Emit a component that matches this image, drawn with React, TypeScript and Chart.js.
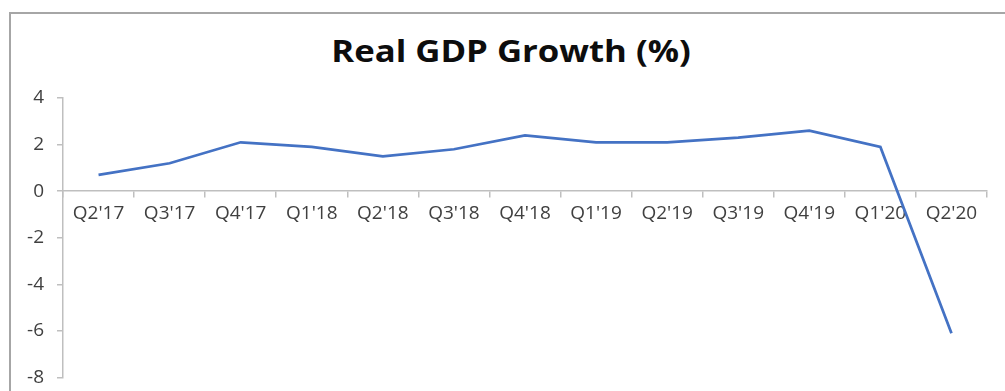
import React, { useEffect, useRef } from "react";
import { Chart, registerables } from "chart.js";

Chart.register(...registerables);

const TITLE = "Real GDP Growth (%)";
const categories = ["Q2'17", "Q3'17", "Q4'17", "Q1'18", "Q2'18", "Q3'18", "Q4'18", "Q1'19", "Q2'19", "Q3'19", "Q4'19", "Q1'20", "Q2'20"];
const gdpGrowth = [0.7, 1.2, 2.1, 1.9, 1.5, 1.8, 2.4, 2.1, 2.1, 2.3, 2.6, 1.9, -6.1];
const yMin = -8;
const yMax = 4;
const yStep = 2;

const FONT = "'Open Sans', 'Liberation Sans', sans-serif";
const AXIS_GRAY = "#bfbfbf";
const LABEL_GRAY = "#404040";

export default function App() {
  const canvasRef = useRef<HTMLCanvasElement | null>(null);

  useEffect(() => {
    const canvas = canvasRef.current;
    if (!canvas) return;
    const chart = new Chart(canvas, {
      type: "line",
      data: {
        labels: categories,
        datasets: [
          {
            data: gdpGrowth,
            borderColor: "#4472C4",
            backgroundColor: "#4472C4",
            borderWidth: 2.75,
            pointRadius: 0,
            tension: 0,
            fill: false,
          },
        ],
      },
      options: {
        animation: false,
        responsive: false,
        devicePixelRatio: 1,
        layout: { padding: { left: 9, right: 18, top: 98, bottom: 4 } },
        plugins: {
          legend: { display: false },
          title: { display: false },
          tooltip: { enabled: false },
        },
        scales: {
          x: {
            type: "category",
            position: { y: 0 },
            offset: true,
            grid: {
              display: true,
              drawOnChartArea: false,
              drawTicks: true,
              tickLength: 6,
              color: AXIS_GRAY,
              lineWidth: 1.5,
              offset: true,
            },
            border: { display: true, color: AXIS_GRAY, width: 1.5 },
            ticks: {
              color: LABEL_GRAY,
              font: { family: FONT, size: 19 },
              padding: 5,
              maxRotation: 0,
              autoSkip: false,
            },
          },
          y: {
            type: "linear",
            position: "left",
            min: yMin,
            max: yMax,
            afterFit: (scale: any) => {
              scale.width = 54;
            },
            grid: {
              display: true,
              drawOnChartArea: false,
              drawTicks: true,
              tickLength: 6,
              color: AXIS_GRAY,
              lineWidth: 1.5,
            },
            border: { display: true, color: AXIS_GRAY, width: 1.5 },
            ticks: {
              stepSize: yStep,
              color: LABEL_GRAY,
              font: { family: FONT, size: 19 },
              padding: 13,
            },
          },
        },
      },
    });
    return () => chart.destroy();
  }, []);

  return (
    <div
      style={{
        position: "fixed",
        left: 0,
        top: 0,
        width: 1005,
        height: 391,
        background: "#ffffff",
        overflow: "hidden",
      }}
    >
      <div
        style={{
          position: "absolute",
          left: 9,
          top: 12,
          width: 1005,
          height: 400,
          borderTop: "2px solid #a6a6a6",
          borderLeft: "2px solid #a6a6a6",
          boxSizing: "border-box",
        }}
      />
      <div
        style={{
          position: "absolute",
          left: 511,
          top: 50,
          transform: "translate(-50%, -50%) scaleX(1.12)",
          whiteSpace: "nowrap",
          fontFamily: FONT,
          fontWeight: 700,
          fontSize: 31,
          color: "#0d0d0d",
          lineHeight: 1,
        }}
      >
        {TITLE}
      </div>
      <canvas
        ref={canvasRef}
        width={1005}
        height={402}
        style={{ position: "absolute", left: 0, top: 0, width: 1005, height: 402 }}
      />
    </div>
  );
}
